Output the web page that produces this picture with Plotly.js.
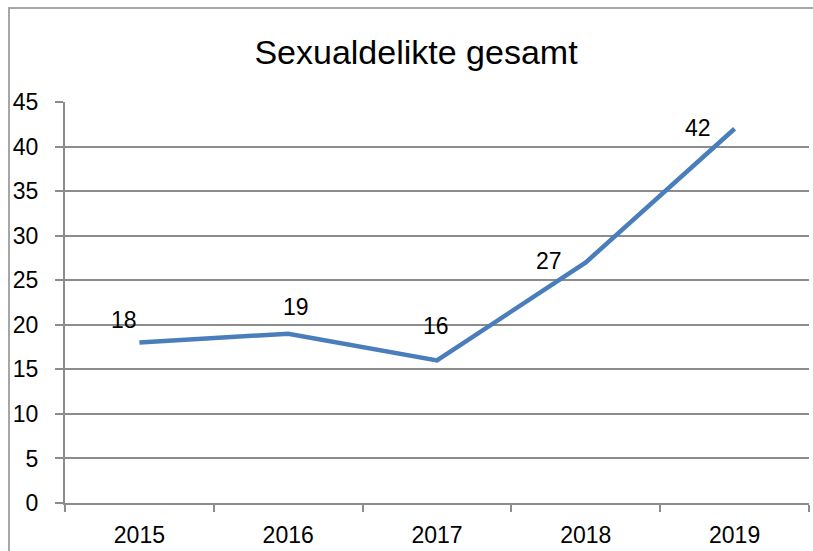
<!DOCTYPE html>
<html>
<head>
<meta charset="utf-8">
<script src="https://cdn.plot.ly/plotly-3.0.1.min.js"></script>
<style>
  html, body { margin: 0; padding: 0; background: #fff; }
  #wrap { position: relative; width: 813px; height: 551px; overflow: hidden; }
  #chart { position: absolute; left: 0; top: 0; width: 813px; height: 551px; }
  #frame { position: absolute; left: 8px; top: 7px; width: 900px; height: 700px;
           border: 2px solid #a6a6a6; box-sizing: border-box; pointer-events: none; }
</style>
</head>
<body>
<div id="wrap">
  <div id="chart"></div>
  <div id="frame"></div>
</div>
<script>
// Data
const years = ["2015", "2016", "2017", "2018", "2019"];
const values = [18, 19, 16, 27, 42];
const yTicks = [0, 5, 10, 15, 20, 25, 30, 35, 40, 45];
const chartTitle = "Sexualdelikte gesamt";

// Label placement (pixel offsets from each point, as in the reference)
const labelShiftX = [-15, 8, -1, -37, -37];
const labelShiftY = [23, 27, 34, 1, 1];

const font = "Liberation Sans, Arial, sans-serif";
const gridColor = "#8c8c8c";

const trace = {
  x: years,
  y: values,
  type: "scatter",
  mode: "lines",
  line: { color: "#4a7ebb", width: 4.5 },
  hoverinfo: "skip"
};

const annotations = years.map((yr, i) => ({
  x: i, y: values[i], xref: "x", yref: "y",
  text: String(values[i]), showarrow: false,
  xanchor: "center", yanchor: "middle",
  xshift: labelShiftX[i], yshift: labelShiftY[i],
  font: { family: font, size: 23, color: "#000" }
}));

const layout = {
  width: 813, height: 551,
  margin: { l: 65, r: 4, t: 102, b: 48, pad: 0 },
  paper_bgcolor: "#fff",
  plot_bgcolor: "#fff",
  showlegend: false,
  title: {
    text: chartTitle,
    font: { family: font, size: 34, color: "#000" },
    x: (416 - 65) / 744, xanchor: "center", xref: "paper",
    y: 1 - 52 / 551, yanchor: "middle", yref: "container"
  },
  xaxis: {
    type: "category",
    tickvals: years,
    ticktext: years,
    tickson: "boundaries",
    ticks: "outside", ticklen: 7, tickwidth: 2, tickcolor: gridColor,
    showline: true, linecolor: gridColor, linewidth: 2,
    showgrid: false, zeroline: false,
    tickfont: { family: font, size: 23, color: "#000" },
    ticklabelstandoff: 10,
    range: [-0.5, 4.5]
  },
  yaxis: {
    range: [0, 45],
    tickvals: yTicks,
    ticktext: yTicks.map(String),
    ticks: "outside", ticklen: 8, tickwidth: 2, tickcolor: gridColor,
    showline: true, linecolor: gridColor, linewidth: 2,
    showgrid: true, gridcolor: gridColor, gridwidth: 2,
    zeroline: false,
    tickfont: { family: font, size: 23, color: "#000" },
    ticklabelstandoff: 12
  },
  annotations: annotations
};

Plotly.newPlot("chart", [trace], layout, { staticPlot: true, displayModeBar: false });
</script>
</body>
</html>
